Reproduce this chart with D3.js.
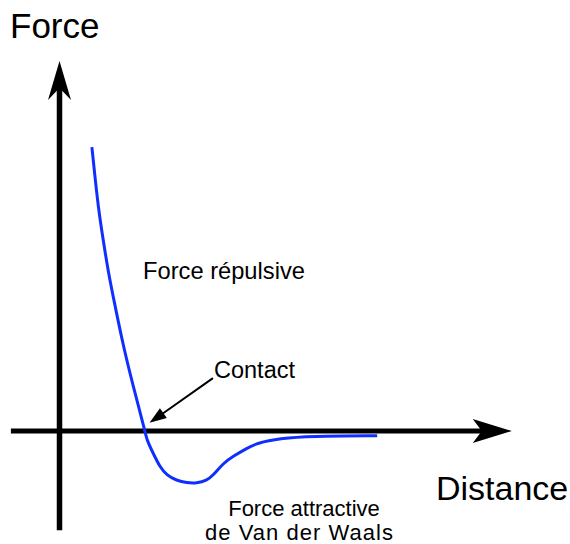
<!DOCTYPE html>
<html>
<head>
<meta charset="utf-8">
<script src="https://cdn.jsdelivr.net/npm/d3@7"></script>
<style>
  body { margin: 0; background: #fff; }
  text { font-family: "Liberation Sans", Arial, sans-serif; fill: #000; }
</style>
</head>
<body>
<script>
// curve (arbitrary units)
var distance = [0.72, 0.78, 0.86, 0.97, 1.09, 1.2, 1.42, 1.64, 1.9, 1.94, 2.08, 2.23, 2.38, 2.6, 2.83, 3.05, 3.27, 3.42, 3.64, 3.86, 4.16, 4.38, 4.9, 5.57, 7.06];
var force    = [7.67, 6.97, 6.06, 5.16, 4.26, 3.59, 2.28, 1.2, 0, -0.24, -0.6, -0.97, -1.19, -1.34, -1.4, -1.41, -1.34, -1.19, -0.87, -0.68, -0.47, -0.33, -0.2, -0.14, -0.13];

var xAxisExtent = [-1.08, 10.05];
var yAxisExtent = [-2.68, 10];
var contactArrow = [[3.41, 1.43], [2.0, 0.22]];

var svg = d3.select('body').append('svg')
        .attr('width', 570)
        .attr('height', 544);

var x = d3.scaleLinear().domain([0, 10]).range([59.5, 509.5]);
var y = d3.scaleLinear().domain([0, 10]).range([431, 61]);

// axes
svg.append('line')
  .attr('x1', x(xAxisExtent[0])).attr('y1', y(0))
  .attr('x2', x(xAxisExtent[1]) - 20).attr('y2', y(0))
  .attr('stroke', '#000').attr('stroke-width', 5);

svg.append('line')
  .attr('x1', x(0)).attr('y1', y(yAxisExtent[0]))
  .attr('x2', x(0)).attr('y2', y(yAxisExtent[1]) + 20)
  .attr('stroke', '#000').attr('stroke-width', 5.5);

// notched arrow heads
var tx = x(xAxisExtent[1]), ty = y(0);
svg.append('path')
  .attr('d', 'M' + tx + ',' + ty + ' L' + (tx - 39) + ',' + (ty - 12) + ' L' + (tx - 30) + ',' + ty + ' L' + (tx - 39) + ',' + (ty + 12) + ' Z')
  .attr('fill', '#000');

var vx = x(0), vy = y(yAxisExtent[1]);
svg.append('path')
  .attr('d', 'M' + vx + ',' + vy + ' L' + (vx - 11.5) + ',' + (vy + 39) + ' L' + vx + ',' + (vy + 27) + ' L' + (vx + 11.5) + ',' + (vy + 39) + ' Z')
  .attr('fill', '#000');

// force curve
var pts = distance.map(function(d, i) { return [d, force[i]]; });
var line = d3.line()
  .x(function(d) { return x(d[0]); })
  .y(function(d) { return y(d[1]); })
  .curve(d3.curveBasis);

svg.append('path')
  .datum(pts)
  .attr('d', line)
  .attr('fill', 'none')
  .attr('stroke', '#0f2fff')
  .attr('stroke-width', 3);

// contact arrow
var a0 = [x(contactArrow[0][0]), y(contactArrow[0][1])];
var a1 = [x(contactArrow[1][0]), y(contactArrow[1][1])];
var ang = Math.atan2(a1[1] - a0[1], a1[0] - a0[0]);
var hl = 17, hw = 6;
var bx = a1[0] - hl * Math.cos(ang), by = a1[1] - hl * Math.sin(ang);
svg.append('line')
  .attr('x1', a0[0]).attr('y1', a0[1])
  .attr('x2', bx + 2 * Math.cos(ang)).attr('y2', by + 2 * Math.sin(ang))
  .attr('stroke', '#000').attr('stroke-width', 2);
svg.append('path')
  .attr('d', 'M' + a1[0] + ',' + a1[1] +
    ' L' + (bx + hw * Math.sin(ang)) + ',' + (by - hw * Math.cos(ang)) +
    ' L' + (bx - hw * Math.sin(ang)) + ',' + (by + hw * Math.cos(ang)) + ' Z')
  .attr('fill', '#000');

// labels
svg.append('text').attr('x', 10).attr('y', 38).style('font-size', '35px').text('Force');
svg.append('text').attr('x', 436).attr('y', 500).style('font-size', '34px').text('Distance');
svg.append('text').attr('x', 143).attr('y', 279).style('font-size', '23.7px').text('Force répulsive');
svg.append('text').attr('x', 214).attr('y', 378).style('font-size', '23.5px').text('Contact');
svg.append('text').attr('x', 304).attr('y', 516).attr('text-anchor', 'middle').style('font-size', '22px').text('Force attractive');
svg.append('text').attr('x', 299).attr('y', 540).attr('text-anchor', 'middle').style('font-size', '22px')
  .attr('textLength', 188).attr('lengthAdjust', 'spacing').text('de Van der Waals');
</script>
</body>
</html>
